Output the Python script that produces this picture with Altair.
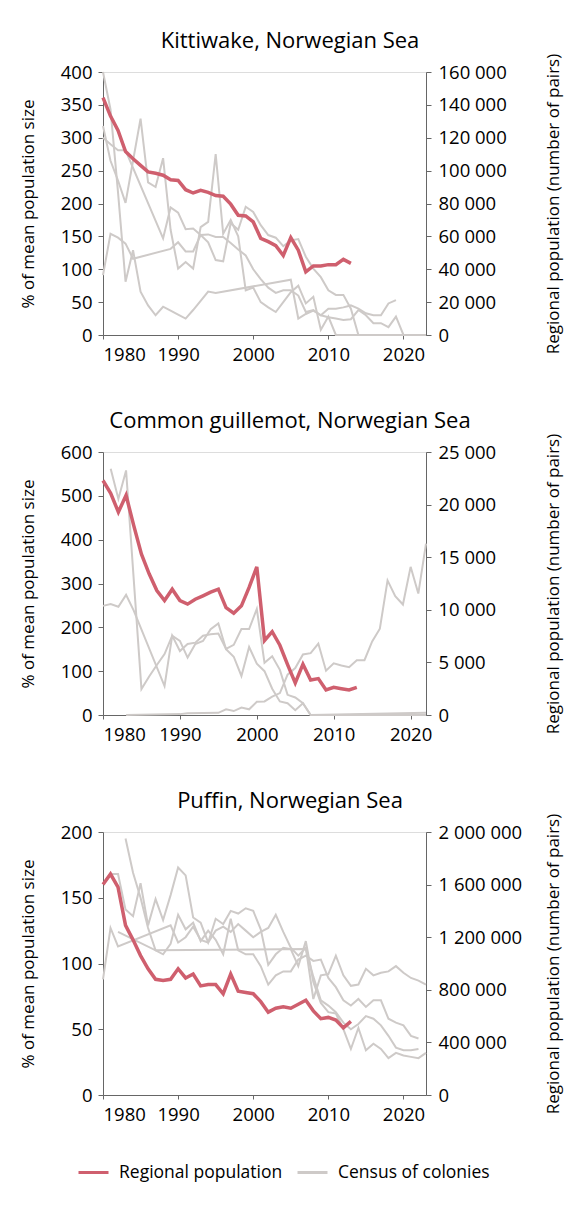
import altair as alt
import pandas as pd

FONT = "Open Sans"
RED = "#CF5F6E"
GREY = "#CECAC8"
AXIS_COL = "#666666"

# ---------------- Kittiwake ----------------
KIT_RED_YEARS = list(range(1980, 2014))
KIT_RED_PAIRS = [144400, 133200, 124400, 111600, 107200, 103200, 99200, 98400, 97200, 94400,
                 94000, 88400, 86400, 88000, 86800, 84800, 84400, 79600, 72800, 72400,
                 68800, 58800, 56800, 54400, 48400, 59200, 51600, 38400, 42000, 42000,
                 42800, 42800, 46000, 43600]

KIT_G1_YEARS = [1980, 1981, 1982, 1983, 1984, 1985, 1986, 1987, 1988, 1989, 1990, 1991, 1992, 1993,
                1994, 1995, 2005, 2006, 2007, 2008, 2009, 2010, 2011, 2012, 2013, 2014, 2015, 2016,
                2017, 2018, 2019]
KIT_G1_VALUES = [400, 343, 217, 81, 129, 66, 45, 30, 43, 37, 31, 25, 38, 52,
                 66, 64, 84, 25, 32, 37, 30, 40, 40, 42, 45, 40, 33, 30,
                 30, 48, 53]
KIT_G2_YEARS = [1980, 1981, 1982, 1983, 1988, 1989, 1990, 1991, 1992, 1993, 1994, 1995, 1996, 1997,
                1998, 1999, 2000, 2001, 2002, 2003, 2004, 2005, 2006, 2007, 2008, 2009, 2010, 2011,
                2012, 2013, 2014, 2023]
KIT_G2_VALUES = [300, 290, 281, 281, 147, 194, 186, 161, 162, 152, 141, 114, 112, 170,
                 160, 195, 187, 167, 152, 148, 135, 144, 146, 119, 101, 88, 68, 61,
                 61, 40, 0, 0]
KIT_G3_YEARS = [1980, 1981, 1982, 1983, 1984, 1985, 1986, 1987, 1988, 1989, 1990, 1991, 1992, 1993,
                1994, 1995, 1996, 1997, 1998, 1999, 2000, 2001, 2002, 2003, 2004, 2005, 2006, 2007,
                2008, 2009, 2010, 2011, 2023]
KIT_G3_VALUES = [318, 265, 235, 201, 265, 329, 232, 225, 269, 160, 101, 111, 101, 164,
                 172, 275, 154, 175, 150, 68, 72, 50, 42, 35, 50, 65, 75, 48,
                 58, 8, 28, 0, 0]
KIT_G4_YEARS = [1980, 1981, 1982, 1983, 1984, 1989, 1990, 1991, 1992, 1993, 1994, 1995, 1996, 1997,
                1998, 1999, 2000, 2001, 2002, 2003, 2004, 2005, 2006, 2007, 2008, 2009, 2010, 2011,
                2012, 2013, 2014, 2015, 2016, 2017, 2018, 2019, 2020, 2023]
KIT_G4_VALUES = [91, 154, 148, 139, 116, 131, 141, 127, 127, 152, 153, 149, 149, 140,
                 130, 121, 100, 85, 72, 64, 68, 68, 60, 35, 38, 30, 27, 25,
                 23, 24, 38, 30, 18, 18, 12, 28, 0, 0]

# ---------------- Common guillemot ----------------
GUI_RED_YEARS = list(range(1980, 2014))
GUI_RED_PAIRS = [22290, 21080, 19290, 20880, 18000, 15290, 13420, 11830, 10880, 11960,
                 10880, 10540, 11000, 11330, 11670, 11960, 10210, 9670, 10380, 12130,
                 14080, 7080, 7920, 6630, 4790, 3040, 4830, 3330, 3460, 2380,
                 2630, 2500, 2380, 2630]

GUI_G1_YEARS = [1981, 1982, 1983, 1985, 1986, 1987, 1988, 1989, 1990, 1991, 1992, 1993, 1994, 1995,
                1996, 1997, 1998, 1999, 2000, 2001, 2002, 2003, 2004, 2005, 2006, 2007, 2022]
GUI_G1_VALUES = [562, 493, 558, 59, 88, 114, 139, 181, 169, 131, 162, 169, 196, 209,
                 150, 133, 89, 155, 117, 100, 60, 31, 27, 11, 27, 0, 5]
GUI_G2_YEARS = [1980, 1981, 1982, 1983, 1984, 1988, 1989, 1990, 1991, 1992, 1993, 1994, 1995, 1996,
                1997, 1998, 1999, 2000, 2001, 2002, 2003, 2004, 2005, 2006, 2007, 2022]
GUI_G2_VALUES = [249, 253, 247, 274, 238, 66, 181, 146, 162, 165, 181, 184, 186, 151,
                 160, 196, 196, 242, 119, 134, 103, 46, 40, 27, 0, 0]
GUI_G3_YEARS = [1983, 1990, 1991, 1995, 1996, 1997, 1998, 1999, 2000, 2001, 2002, 2003, 2004, 2005,
                2006, 2007, 2008, 2009, 2010, 2011, 2012, 2013, 2014, 2015, 2016, 2017, 2018, 2019,
                2020, 2021, 2022]
GUI_G3_VALUES = [0, 2, 4, 5, 13, 9, 17, 13, 30, 31, 42, 50, 92, 107,
                 138, 141, 163, 101, 118, 113, 109, 125, 125, 168, 197, 307, 271, 252,
                 338, 277, 391]

# ---------------- Puffin ----------------
PUF_RED_YEARS = list(range(1980, 2014))
PUF_RED_PAIRS = [1600000, 1680000, 1580000, 1290000, 1180000, 1060000, 960000, 880000, 870000, 880000,
                 960000, 890000, 920000, 830000, 840000, 840000, 770000, 920000, 790000, 780000,
                 770000, 710000, 630000, 660000, 670000, 660000, 690000, 720000, 640000, 580000,
                 590000, 570000, 510000, 560000]

PUF_G1_YEARS = list(range(1981, 2024))
PUF_G1_VALUES = [168, 168, 141, 136, 161, 129, 149, 133, 152, 173, 167, 135, 131, 116,
                 134, 130, 140, 138, 142, 140, 126, 99, 107, 112, 111, 98, 117, 86,
                 70, 63, 62, 50, 35, 51, 34, 39, 35, 28, 32, 30, 29, 28, 32]
PUF_G2_YEARS = list(range(1983, 2023))
PUF_G2_VALUES = [195, 169, 150, 127, 110, 107, 115, 137, 126, 131, 117, 125, 118, 107,
                 134, 110, 107, 107, 98, 84, 91, 94, 94, 103, 106, 102, 103, 89,
                 82, 72, 68, 73, 67, 72, 72, 58, 55, 53, 45, 43]
PUF_G3_YEARS = [1980, 1981, 1982, 1989, 1990, 1991, 1992, 1993, 1994, 1995, 1996, 1997, 1998, 1999,
                2000, 2001, 2002, 2003, 2004, 2005, 2006, 2007, 2008, 2009, 2010, 2011, 2012, 2013,
                2014, 2015, 2016, 2017, 2018, 2019, 2020, 2021, 2022, 2023]
PUF_G3_VALUES = [88, 127, 113, 129, 116, 120, 128, 118, 116, 125, 128, 124, 130, 125,
                 120, 124, 127, 137, 124, 112, 106, 112, 73, 91, 92, 106, 91, 83,
                 84, 96, 91, 93, 94, 98, 93, 89, 87, 84]
PUF_G4_YEARS = [1982, 1987, 2007, 2008, 2009, 2010, 2011, 2012, 2013, 2014, 2015, 2016, 2017, 2018,
                2019, 2020, 2021, 2022]
PUF_G4_VALUES = [124, 110, 111, 90, 72, 68, 63, 55, 50, 54, 60, 58, 53, 45,
                 36, 34, 34, 35]

KIND_RED = "Regional population"
KIND_GREY = "Census of colonies"

color_scale = alt.Scale(domain=[KIND_RED, KIND_GREY], range=[RED, GREY])

LABEL_SIZE = 18.5


def grey_frame(series):
    rows = []
    for i, (yrs, vals) in enumerate(series):
        for y, v in zip(yrs, vals):
            rows.append({"year": y, "value": v, "series": f"s{i}", "kind": KIND_GREY})
    return pd.DataFrame(rows)


def red_frame(yrs, vals):
    return pd.DataFrame({"year": yrs, "pairs": vals, "kind": KIND_RED})


def panel(title, greys, red_y, red_v, left_max, left_step, right_max, right_step, xmax):
    x = alt.X("year:Q", scale=alt.Scale(domain=[1980, xmax], nice=False, zero=False),
              axis=alt.Axis(values=[1980, 1990, 2000, 2010, 2020], format="d", title=None,
                            grid=False, tickSize=4, labelPadding=6, labelFontSize=LABEL_SIZE,
                            domainColor=AXIS_COL, tickColor=AXIS_COL, labelColor="black",
                            labelFont=FONT))
    legend = alt.Legend(title=None, orient="none", legendX=-26, legendY=1084,
                        direction="horizontal", symbolType="stroke", symbolSize=900,
                        symbolStrokeWidth=3, labelFontSize=17.5, labelFont=FONT,
                        labelColor="black", columnPadding=8, labelOffset=9, labelLimit=0)
    grey = alt.Chart(grey_frame(greys)).mark_line(strokeWidth=2).encode(
        x=x,
        y=alt.Y("value:Q", scale=alt.Scale(domain=[0, left_max], nice=False),
                axis=alt.Axis(values=list(range(0, left_max + 1, left_step)), grid=False,
                              title="% of mean population size", titleX=-75, titleY=131.5,
                              titleAngle=270, titleBaseline="middle", titleAlign="center",
                              titleFontSize=17, titleFontWeight="normal", titleFont=FONT,
                              titleColor="black", tickSize=5, labelPadding=6,
                              labelFontSize=LABEL_SIZE, labelFont=FONT, labelColor="black",
                              domainColor=AXIS_COL, tickColor=AXIS_COL)),
        detail="series:N",
        color=alt.Color("kind:N", scale=color_scale, legend=legend),
    )
    red = alt.Chart(red_frame(red_y, red_v)).mark_line(strokeWidth=3.5).encode(
        x=x,
        y=alt.Y("pairs:Q", scale=alt.Scale(domain=[0, right_max], nice=False),
                axis=alt.Axis(orient="right", values=list(range(0, right_max + 1, right_step)),
                              grid=False,
                              labelExpr="replace(format(datum.value, ','), regexp(',', 'g'), ' ')",
                              title="Regional population (number of pairs)", titleX=127,
                              titleY=131.5, titleAngle=270, titleBaseline="middle",
                              titleAlign="center", titleFontSize=17, titleFontWeight="normal",
                              titleFont=FONT, titleColor="black", tickSize=5, labelPadding=7,
                              labelFontSize=LABEL_SIZE, labelFont=FONT, labelColor="black",
                              domainColor=AXIS_COL, tickColor=AXIS_COL)),
        color=alt.Color("kind:N", scale=color_scale, legend=legend),
    )
    return alt.layer(grey, red).resolve_scale(y="independent").properties(
        width=323, height=263,
        title=alt.TitleParams(title, fontSize=22, fontWeight="normal", font=FONT,
                              color="black", anchor="middle", frame="bounds", offset=0),
    )


kit = panel("Kittiwake, Norwegian Sea",
            [(KIT_G1_YEARS, KIT_G1_VALUES), (KIT_G2_YEARS, KIT_G2_VALUES),
             (KIT_G3_YEARS, KIT_G3_VALUES), (KIT_G4_YEARS, KIT_G4_VALUES)],
            KIT_RED_YEARS, KIT_RED_PAIRS, 400, 50, 160000, 20000, 2023)
gui = panel("Common guillemot, Norwegian Sea",
            [(GUI_G1_YEARS, GUI_G1_VALUES), (GUI_G2_YEARS, GUI_G2_VALUES),
             (GUI_G3_YEARS, GUI_G3_VALUES)],
            GUI_RED_YEARS, GUI_RED_PAIRS, 600, 100, 25000, 5000, 2022)
puf = panel("Puffin, Norwegian Sea",
            [(PUF_G1_YEARS, PUF_G1_VALUES), (PUF_G2_YEARS, PUF_G2_VALUES),
             (PUF_G3_YEARS, PUF_G3_VALUES), (PUF_G4_YEARS, PUF_G4_VALUES)],
            PUF_RED_YEARS, PUF_RED_PAIRS, 200, 50, 2000000, 400000, 2023)

chart = alt.vconcat(kit, gui, puf, spacing=117, bounds="flush").resolve_scale(
    color="shared").resolve_legend(color="shared").properties(
    padding={"left": 10, "top": 21, "right": 5, "bottom": 5}
).configure_view(stroke=None).configure(font=FONT)

chart.save("out.html", embed_options={"renderer": "svg", "actions": False})
